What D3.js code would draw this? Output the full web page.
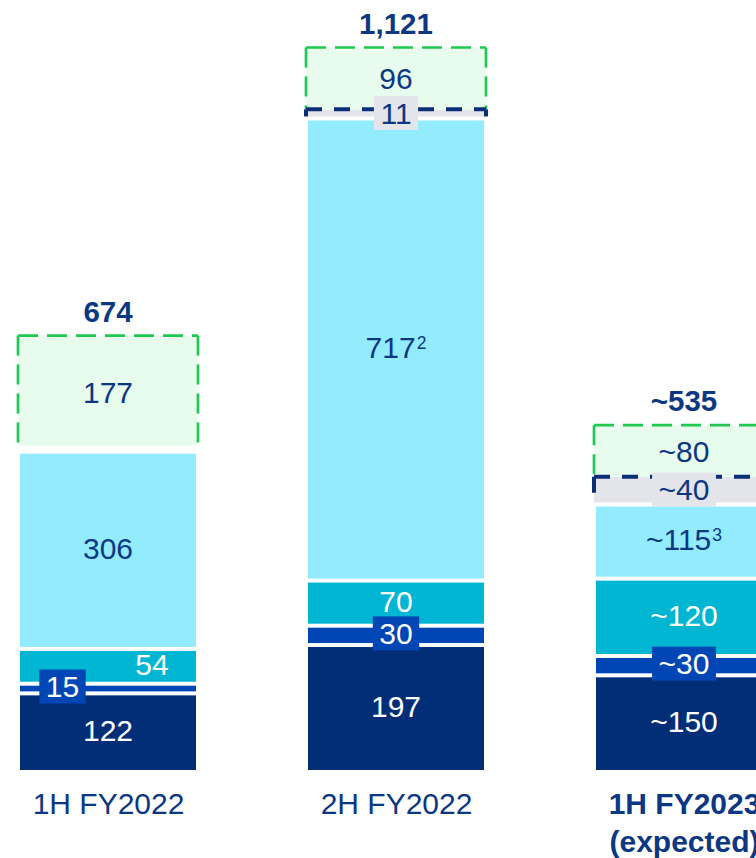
<!DOCTYPE html>
<html>
<head>
<meta charset="utf-8">
<script src="https://cdn.jsdelivr.net/npm/d3@7"></script>
<style>
  html, body { margin: 0; padding: 0; background: #ffffff; }
  svg { display: block; }
  text { font-family: "Liberation Sans", Arial, Helvetica, sans-serif; }
</style>
</head>
<body>
<svg id="chart" width="756" height="858"></svg>
<script>
// ---- data ----
const categories = ["1H FY2022", "2H FY2022", "1H FY2023"];
const categorySubLabels = ["", "", "(expected)"];
const isEstimate = [false, false, true];

const baseValues     = [122, 197, 150];
const secondValues   = [15, 30, 30];
const thirdValues    = [54, 70, 120];
const fourthValues   = [306, 717, 115];
const fourthNotes    = ["", "2", "3"];
const pendingValues  = [0, 11, 40];
const upsideValues   = [177, 96, 80];
const totals         = [674, 1121, 535];

// ---- layout ----
const barWidth = 176;
const segGap = 4;
const valueFont = 30;
const supFont = 17.5;

const colors = {
  base: "#022e78",
  second: "#0046b4",
  third: "#00b6d3",
  fourth: "#92ecfd",
  pending: "#e4e5eb",
  upside: "#e8fcee",
  upsideStroke: "#1fc951",
  pendingStroke: "#0b2f77",
  darkText: "#0c3883",
  lightText: "#ffffff"
};

const keys = ["base", "second", "third", "fourth", "pending", "upside"];
const table = categories.map((c, i) => ({
  category: c,
  base: baseValues[i],
  second: secondValues[i],
  third: thirdValues[i],
  fourth: fourthValues[i],
  pending: pendingValues[i],
  upside: upsideValues[i]
}));

const stacked = d3.stack().keys(keys)(table);

const x = d3.scalePoint().domain(categories).range([108, 684]);
const y = d3.scaleLinear().domain([0, d3.max(totals)]).range([770, 47.5]);

const svg = d3.select("#chart");

// label settings per segment
const segStyle = {
  base:    { fill: colors.base,    text: colors.lightText, box: null },
  second:  { fill: colors.second,  text: colors.lightText, box: colors.second },
  third:   { fill: colors.third,   text: colors.lightText, box: null },
  fourth:  { fill: colors.fourth,  text: colors.darkText,  box: null },
  pending: { fill: colors.pending, text: colors.darkText,  box: colors.pending },
  upside:  { fill: colors.upside,  text: colors.darkText,  box: null }
};
// horizontal label shifts (bar index : key)
const labelShift = { "0:second": -45.5, "0:third": 44 };

const fmt = d3.format(",");
const labelText = (i, v) => (isEstimate[i] ? "~" : "") + fmt(v);

const gBars = svg.append("g");
const gOverlay = svg.append("g");
const gLabels = svg.append("g");

// solid segments
["base", "second", "third", "fourth"].forEach(key => {
  const layer = stacked.find(s => s.key === key);
  gBars.selectAll(null)
    .data(layer)
    .join("rect")
    .attr("x", d => x(d.data.category) - barWidth / 2)
    .attr("width", barWidth)
    .attr("y", d => y(d[1]) + segGap)
    .attr("height", d => Math.max(0, y(d[0]) - y(d[1]) - segGap))
    .attr("fill", segStyle[key].fill);
});

// pending segment fill
const pendingLayer = stacked.find(s => s.key === "pending");
pendingLayer.forEach(d => {
  if (d[1] - d[0] <= 0) return;
  const cx = x(d.data.category);
  const l = cx - barWidth / 2 - 2, r = cx + barWidth / 2 + 2;
  const yT = y(d[1]), yB = y(d[0]);
  gOverlay.append("rect")
    .attr("x", l).attr("width", r - l)
    .attr("y", yT).attr("height", yB - yT)
    .attr("fill", colors.pending);
});

// upside segment (dashed green box, open at the bottom)
const upsideLayer = stacked.find(s => s.key === "upside");
upsideLayer.forEach((d, i) => {
  const cx = x(d.data.category);
  const l = cx - barWidth / 2 - 2, r = cx + barWidth / 2 + 2;
  const yT = y(d[1]);
  const yB = y(d[0]) - (pendingValues[i] > 0 ? 0 : segGap);
  gOverlay.append("rect")
    .attr("x", l).attr("width", r - l)
    .attr("y", yT).attr("height", yB - yT)
    .attr("fill", colors.upside);
  [[l, yT, r, yT], [l, yT, l, yB], [r, yT, r, yB]].forEach(p => {
    gOverlay.append("line")
      .attr("x1", p[0]).attr("y1", p[1]).attr("x2", p[2]).attr("y2", p[3])
      .attr("stroke", colors.upsideStroke)
      .attr("stroke-width", 2.7)
      .attr("stroke-dasharray", "20,9");
  });
});

// navy dashed bracket on top of pending segments
pendingLayer.forEach(d => {
  if (d[1] - d[0] <= 0) return;
  const cx = x(d.data.category);
  const l = cx - barWidth / 2 - 2, r = cx + barWidth / 2 + 2;
  const yT = y(d[1]), yB = y(d[0]);
  [[l, yT, r, yT], [l, yT, l, yB], [r, yT, r, yB]].forEach(p => {
    gOverlay.append("line")
      .attr("x1", p[0]).attr("y1", p[1]).attr("x2", p[2]).attr("y2", p[3])
      .attr("stroke", colors.pendingStroke)
      .attr("stroke-width", 4)
      .attr("stroke-dasharray", "16,12");
  });
});

// segment value labels
keys.forEach(key => {
  const layer = stacked.find(s => s.key === key);
  const st = segStyle[key];
  layer.forEach((d, i) => {
    const v = d[1] - d[0];
    if (v <= 0) return;
    const cx = x(d.data.category) + (labelShift[i + ":" + key] || 0);
    const cy = (y(d[0]) + y(d[1])) / 2;
    const t = gLabels.append("text")
      .attr("x", cx)
      .attr("y", cy + valueFont * 0.355)
      .attr("text-anchor", "middle")
      .attr("font-size", valueFont)
      .attr("fill", st.text);
    t.append("tspan").text(labelText(i, v));
    if (key === "fourth" && fourthNotes[i]) {
      t.append("tspan")
        .attr("font-size", supFont)
        .attr("dx", 1)
        .attr("dy", -9)
        .text(fourthNotes[i]);
    }
    if (st.box) {
      const bb = t.node().getBBox();
      const padX = 6.5, bh = 34;
      gLabels.insert("rect", () => t.node())
        .attr("x", bb.x - padX)
        .attr("width", bb.width + padX * 2)
        .attr("y", cy - bh / 2)
        .attr("height", bh)
        .attr("fill", st.box);
    }
  });
});

// totals above each bar
gLabels.selectAll(null)
  .data(categories)
  .join("text")
  .attr("x", d => x(d))
  .attr("y", (d, i) => y(totals[i]) - 14)
  .attr("text-anchor", "middle")
  .attr("font-size", 29.5)
  .attr("font-weight", "bold")
  .attr("fill", colors.darkText)
  .text((d, i) => labelText(i, totals[i]));

// category axis labels
const xAxis = d3.axisBottom(x).tickSize(0).tickPadding(0);
const gAxis = svg.append("g").attr("transform", "translate(0,770)").call(xAxis);
gAxis.select(".domain").remove();
gAxis.selectAll(".tick text").remove();
gAxis.selectAll(".tick").each(function(d, i) {
  const t = d3.select(this).append("text")
    .attr("text-anchor", "middle")
    .attr("font-size", 30)
    .attr("fill", colors.darkText)
    .attr("font-weight", categorySubLabels[i] ? "bold" : "normal");
  t.append("tspan").attr("x", 0).attr("y", 44).text(d);
  if (categorySubLabels[i]) {
    t.append("tspan").attr("x", 0).attr("y", 82).text(categorySubLabels[i]);
  }
});
</script>
</body>
</html>
